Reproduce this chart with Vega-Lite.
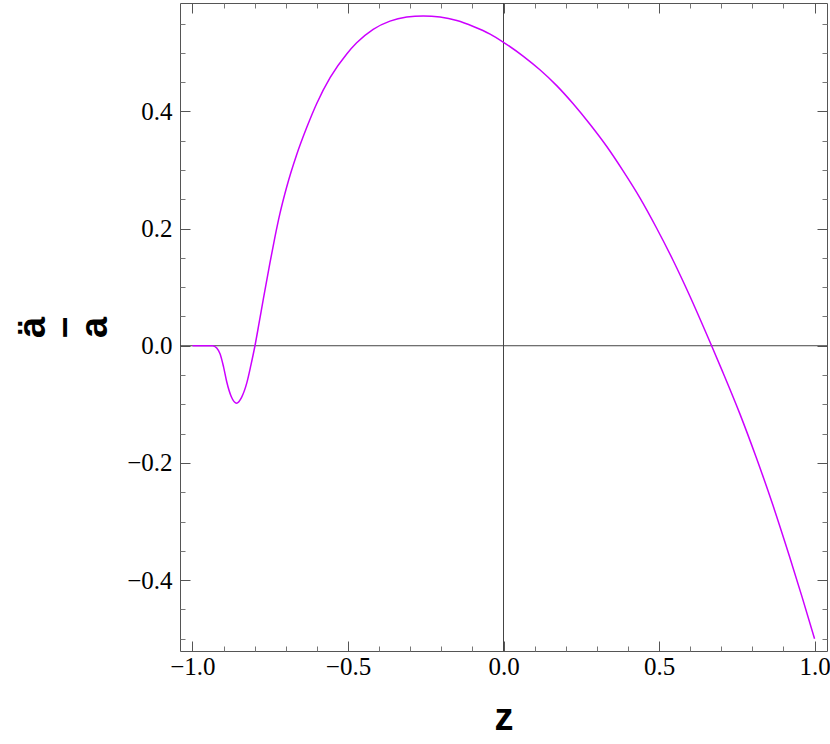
{
  "$schema": "https://vega.github.io/schema/vega-lite/v6.json",
  "width": 647,
  "height": 648,
  "autosize": {"type": "none"},
  "padding": {"left": 180, "top": 3, "right": 3, "bottom": 93},
  "background": "white",
  "config": {
    "view": {"stroke": "#555", "strokeWidth": 1},
    "axis": {
      "grid": false,
      "domain": false,
      "labelFont": "Liberation Serif",
      "labelFontSize": 25,
      "labelColor": "#000",
      "tickColor": "#555",
      "tickWidth": 1,
      "titleFont": "Liberation Sans",
      "titleFontWeight": "bold",
      "titleFontSize": 38,
      "titleColor": "#000"
    }
  },
  "data": {
    "values": [
      {"z": -1.0, "y": 0},
      {"z": -0.96, "y": 0},
      {"z": -0.935, "y": 0},
      {"z": -0.922, "y": -0.004},
      {"z": -0.911, "y": -0.014},
      {"z": -0.9, "y": -0.036},
      {"z": -0.89, "y": -0.061},
      {"z": -0.875, "y": -0.087},
      {"z": -0.858, "y": -0.098},
      {"z": -0.842, "y": -0.088},
      {"z": -0.825, "y": -0.063},
      {"z": -0.812, "y": -0.033},
      {"z": -0.799, "y": 0},
      {"z": -0.786, "y": 0.038},
      {"z": -0.772, "y": 0.08},
      {"z": -0.751, "y": 0.141},
      {"z": -0.735, "y": 0.185},
      {"z": -0.719, "y": 0.225},
      {"z": -0.697, "y": 0.271},
      {"z": -0.665, "y": 0.326},
      {"z": -0.633, "y": 0.372},
      {"z": -0.6, "y": 0.414},
      {"z": -0.557, "y": 0.458},
      {"z": -0.504, "y": 0.498},
      {"z": -0.472, "y": 0.517},
      {"z": -0.419, "y": 0.540},
      {"z": -0.365, "y": 0.554},
      {"z": -0.311, "y": 0.561},
      {"z": -0.258, "y": 0.563},
      {"z": -0.204, "y": 0.561},
      {"z": -0.15, "y": 0.555},
      {"z": -0.097, "y": 0.545},
      {"z": -0.043, "y": 0.532},
      {"z": 0.0, "y": 0.518},
      {"z": 0.064, "y": 0.494},
      {"z": 0.117, "y": 0.471},
      {"z": 0.171, "y": 0.444},
      {"z": 0.224, "y": 0.413},
      {"z": 0.278, "y": 0.378},
      {"z": 0.332, "y": 0.340},
      {"z": 0.385, "y": 0.298},
      {"z": 0.439, "y": 0.252},
      {"z": 0.492, "y": 0.201},
      {"z": 0.545, "y": 0.146},
      {"z": 0.599, "y": 0.085},
      {"z": 0.652, "y": 0.021},
      {"z": 0.669, "y": 0},
      {"z": 0.705, "y": -0.045},
      {"z": 0.759, "y": -0.115},
      {"z": 0.812, "y": -0.19},
      {"z": 0.866, "y": -0.272},
      {"z": 0.919, "y": -0.359},
      {"z": 0.96, "y": -0.429},
      {"z": 1.0, "y": -0.5}
    ]
  },
  "layer": [
    {
      "data": {"values": [{}]},
      "mark": {"type": "rule", "color": "#444", "strokeWidth": 1},
      "encoding": {
        "y": {
          "datum": 0,
          "type": "quantitative",
          "scale": {"domain": [-0.521, 0.585], "nice": false, "zero": false},
          "axis": {
            "orient": "left",
            "title": null,
            "labels": false,
            "values": [-0.5, -0.45, -0.35, -0.3, -0.25, -0.15, -0.1, -0.05, 0.05, 0.1, 0.15, 0.25, 0.3, 0.35, 0.45, 0.5, 0.55],
            "tickSize": 5,
            "offset": -5,
            "tickColor": "#777"
          }
        }
      }
    },
    {
      "data": {"values": [{}]},
      "mark": {"type": "rule", "color": "#444", "strokeWidth": 1},
      "encoding": {
        "x": {
          "datum": 0,
          "type": "quantitative",
          "scale": {"domain": [-1.04, 1.04], "nice": false, "zero": false},
          "axis": {
            "orient": "bottom",
            "title": null,
            "labels": false,
            "values": [-0.9, -0.8, -0.7, -0.6, -0.4, -0.3, -0.2, -0.1, 0.1, 0.2, 0.3, 0.4, 0.6, 0.7, 0.8, 0.9],
            "tickSize": 5,
            "offset": -5,
            "tickColor": "#777"
          }
        }
      }
    },
    {
      "mark": {"type": "line", "opacity": 0},
      "encoding": {
        "x": {
          "field": "z",
          "type": "quantitative",
          "scale": {"domain": [-1.04, 1.04], "nice": false, "zero": false},
          "axis": {
            "orient": "top",
            "title": null,
            "labels": false,
            "values": [-1, -0.5, 0, 0.5, 1],
            "tickSize": 10,
            "offset": -10
          }
        },
        "y": {
          "field": "y",
          "type": "quantitative",
          "scale": {"domain": [-0.521, 0.585], "nice": false, "zero": false},
          "axis": {
            "orient": "right",
            "title": null,
            "labels": false,
            "values": [-0.4, -0.2, 0, 0.2, 0.4],
            "tickSize": 10,
            "offset": -10
          }
        }
      }
    },
    {
      "mark": {"type": "line", "opacity": 0},
      "encoding": {
        "x": {
          "field": "z",
          "type": "quantitative",
          "scale": {"domain": [-1.04, 1.04], "nice": false, "zero": false},
          "axis": {
            "orient": "top",
            "title": null,
            "labels": false,
            "values": [-0.9, -0.8, -0.7, -0.6, -0.4, -0.3, -0.2, -0.1, 0.1, 0.2, 0.3, 0.4, 0.6, 0.7, 0.8, 0.9],
            "tickSize": 5,
            "offset": -5,
            "tickColor": "#777"
          }
        },
        "y": {
          "field": "y",
          "type": "quantitative",
          "scale": {"domain": [-0.521, 0.585], "nice": false, "zero": false},
          "axis": {
            "orient": "right",
            "title": null,
            "labels": false,
            "values": [-0.5, -0.45, -0.35, -0.3, -0.25, -0.15, -0.1, -0.05, 0.05, 0.1, 0.15, 0.25, 0.3, 0.35, 0.45, 0.5, 0.55],
            "tickSize": 5,
            "offset": -5,
            "tickColor": "#777"
          }
        }
      }
    },
    {
      "mark": {"type": "line", "color": "#CC00FF", "strokeWidth": 1.5, "interpolate": "monotone"},
      "encoding": {
        "x": {
          "field": "z",
          "type": "quantitative",
          "scale": {"domain": [-1.04, 1.04], "nice": false, "zero": false},
          "axis": {
            "orient": "bottom",
            "title": "z",
            "values": [-1, -0.5, 0, 0.5, 1],
            "format": ".1f",
            "tickSize": 10,
            "offset": -10,
            "labelPadding": 3,
            "titlePadding": 20
          }
        },
        "y": {
          "field": "y",
          "type": "quantitative",
          "scale": {"domain": [-0.521, 0.585], "nice": false, "zero": false},
          "axis": {
            "orient": "left",
            "title": ["ä", "–", "a"],
            "titleLineHeight": 31,
            "values": [-0.4, -0.2, 0, 0.2, 0.4],
            "format": ".1f",
            "tickSize": 10,
            "offset": -10,
            "labelPadding": 8,
            "titlePadding": 12
          }
        }
      }
    }
  ],
  "resolve": {"axis": {"x": "independent", "y": "independent"}}
}
